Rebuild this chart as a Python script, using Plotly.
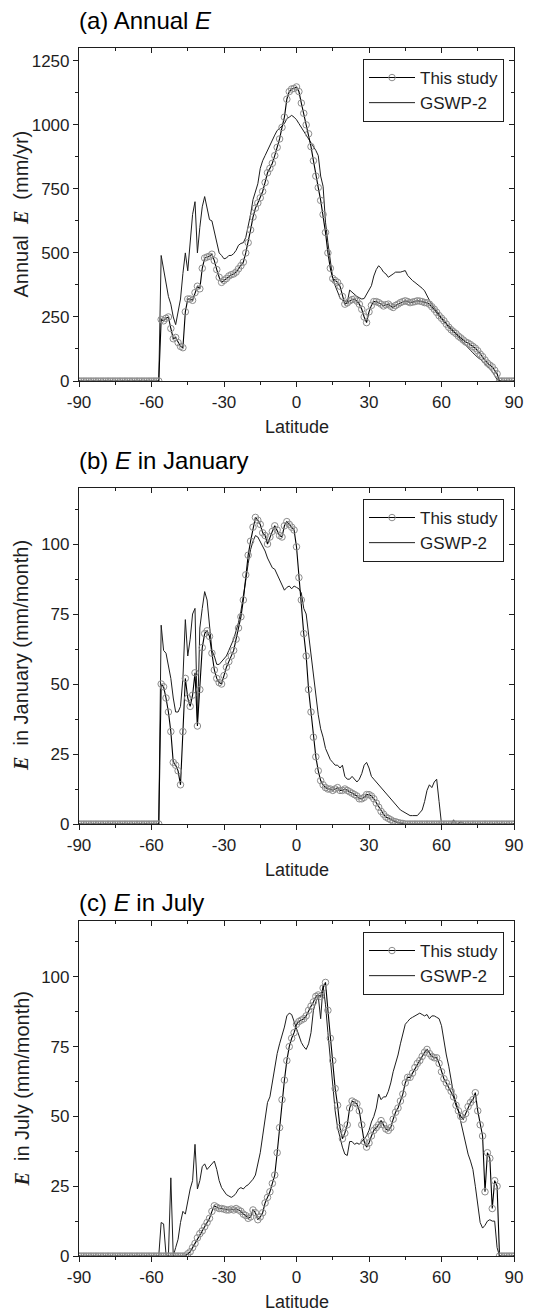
import plotly.graph_objects as go

W, H = 543, 1315

# Latitude grid (1 degree)
LATITUDE = list(range(-90, 91))
LAT_TICKS = [-90, -60, -30, 0, 30, 60, 90]
LAT_TICK_TEXT = ["-90", "-60", "-30", "0", "30", "60", "90"]
LAT_MINOR = [-75, -45, -15, 15, 45, 75]

ANNUAL_TICKS = [0, 250, 500, 750, 1000, 1250]
ANNUAL_MINOR = [125, 375, 625, 875, 1125]
MONTH_TICKS = [0, 25, 50, 75, 100]
MONTH_MINOR = [12.5, 37.5, 62.5, 87.5, 112.5]

# (a) Annual E, mm/yr
annual_this_study = [
    0, 0, 0, 0, 0, 0, 0, 0, 0, 0,
    0, 0, 0, 0, 0, 0, 0, 0, 0, 0,
    0, 0, 0, 0, 0, 0, 0, 0, 0, 0,
    0, 0, 0, 0,
    240, 235, 245, 250, 205, 165, 170, 150, 135, 130,
    270, 320, 320, 315, 345, 370, 360, 440, 480, 484,
    487, 495, 470, 435, 405, 385, 393, 400, 410, 415,
    418, 425, 438, 450, 464, 500, 540, 590, 640, 675,
    695, 715, 740, 775, 813, 830, 850, 880, 912, 945,
    990, 1030, 1100, 1130, 1140, 1142, 1148, 1130, 1085, 1045,
    1000, 965, 915, 860, 800, 755, 705, 650, 580, 500,
    440, 400, 392, 385, 370, 330, 300, 305, 313, 318,
    320, 312, 300, 280, 250, 228, 270, 295, 310, 310,
    306, 300, 293, 298, 300, 292, 287, 295, 300, 306,
    310, 313, 310, 306, 308, 310, 313, 312, 310, 306,
    305, 300, 290, 280, 268, 255, 245, 235, 222, 210,
    200, 192, 185, 175, 168, 160, 152, 148, 142, 135,
    128, 118, 105, 95, 82, 70, 62, 55, 42, 28,
    0, 0, 0, 0, 0, 0, 0,
]
annual_gswp2 = [
    0, 0, 0, 0, 0, 0, 0, 0, 0, 0,
    0, 0, 0, 0, 0, 0, 0, 0, 0, 0,
    0, 0, 0, 0, 0, 0, 0, 0, 0, 0,
    0, 0, 0, 0,
    490, 440, 390, 330, 300, 250, 220, 270, 320, 420,
    500, 430, 560, 650, 700, 500, 600, 680, 720, 680,
    630, 625, 580, 540, 500, 490, 477, 480, 490, 490,
    497, 510, 530, 537, 540, 560, 603, 650, 708, 740,
    770, 830, 860, 880, 900, 925, 945, 960, 978, 985,
    995, 1005, 1024, 1030, 1037, 1030, 1020, 1005, 990, 980,
    965, 945, 930, 915, 900, 880, 800, 760, 620, 540,
    460, 400, 372, 345, 325, 315, 310, 306, 355, 346,
    339, 330, 325, 320, 322, 339, 355, 372, 410, 435,
    450, 440, 425, 418, 405, 410, 418, 425, 425, 425,
    428, 431, 412, 400, 392, 385, 378, 372, 362, 352,
    330, 315, 300, 285, 273, 260, 247, 235, 225, 215,
    208, 195, 185, 170, 160, 150, 141, 130, 120, 110,
    100, 92, 85, 78, 68, 58, 48, 36, 22, 5,
    0, 0, 0, 0, 0, 0, 0,
]

# (b) E in January, mm/month
january_this_study = [
    0, 0, 0, 0, 0, 0, 0, 0, 0, 0,
    0, 0, 0, 0, 0, 0, 0, 0, 0, 0,
    0, 0, 0, 0, 0, 0, 0, 0, 0, 0,
    0, 0, 0, 0,
    50, 49, 45, 40, 33, 22, 21, 19, 14, 33,
    52, 45, 42, 46, 54, 35, 48, 63, 68, 69,
    67, 61, 55, 52, 50.5, 50, 53, 56, 58, 60,
    62, 66, 70, 74, 80, 89, 96, 101, 106, 109.5,
    108.5, 107, 104, 103, 100, 102.5, 104.5, 106.5, 105, 103,
    102.5, 106.5, 108, 107, 106, 105, 99, 88, 80, 68,
    60, 48, 40, 31, 24, 19, 15.5, 14, 13, 12.5,
    12.5, 12, 12.5, 13, 12, 12, 12.5, 12, 11.5, 11,
    10.5, 10, 9, 9, 9.5, 10.5, 10.5, 10, 9, 7.5,
    6, 4.5, 3.5, 2.5, 2, 1.5, 1, 0.8, 0.5, 0.3,
    0.2, 0, 0, 0, 0, 0, 0, 0, 0, 0,
    0, 0, 0, 0, 0, 0, 0, 0, 0, 0,
    0, 0, 0, 0, 0, 0, 0, 0, 0, 0,
    0, 0, 0, 0, 0, 0, 0, 0, 0, 0,
    0, 0, 0, 0, 0, 0, 0,
]
january_gswp2 = [
    0, 0, 0, 0, 0, 0, 0, 0, 0, 0,
    0, 0, 0, 0, 0, 0, 0, 0, 0, 0,
    0, 0, 0, 0, 0, 0, 0, 0, 0, 0,
    0, 0, 0, 0,
    71, 62, 61, 56, 52, 45, 40, 40, 42, 52,
    73, 60, 66, 75, 77, 36, 70, 77, 83, 80,
    70, 62, 60, 57, 57, 58, 59, 60, 62, 64,
    66, 69, 72, 76, 81, 87, 93, 98, 101, 103,
    102.5, 101, 99.5, 97.5, 95, 93, 91.5, 91, 89, 87,
    85, 83.5, 84.5, 85, 84, 85, 84.5, 84, 82.5, 77,
    75, 68, 60, 52, 45, 39, 34, 31, 27, 25,
    23, 22, 21, 21, 20, 21, 17, 16, 16, 17,
    16, 15, 16, 18, 21, 22, 20, 17, 16, 15,
    14, 13, 12, 11, 10, 9, 8, 7, 6, 5,
    4.5, 4, 3.5, 3, 3, 3, 3, 4, 5, 8,
    12, 14, 13, 15, 16, 8, 0, 0, 0, 0,
    0, 1.5, 0, 0, 1, 0, 0, 0, 0, 0,
    0, 0, 0, 0, 0, 0, 0, 0, 0, 0,
    0, 0, 0, 0, 0, 0, 0,
]

# (c) E in July, mm/month
july_this_study = [
    0, 0, 0, 0, 0, 0, 0, 0, 0, 0,
    0, 0, 0, 0, 0, 0, 0, 0, 0, 0,
    0, 0, 0, 0, 0, 0, 0, 0, 0, 0,
    0, 0, 0, 0, 0, 0, 0, 0, 0, 0,
    0, 0, 0, 0, 0,
    0.8, 1.5, 3, 4.5, 6.5, 8, 9, 10.5, 12, 13.5,
    16, 18, 17.5, 17, 17, 16.8, 16.5, 16.5, 16.8, 16.5,
    17, 16.5, 16, 15, 14.5, 13.5, 14, 16.5, 15.5, 13,
    14, 15.5, 19, 21, 23, 26, 29, 37, 46, 56,
    63, 70, 75, 78, 80, 83, 84, 84.5, 85, 86,
    88, 89.5, 91, 93, 93.5, 93, 96, 98, 88, 78,
    70, 60, 54, 46, 42, 44, 47, 53, 55.5, 55,
    54.5, 52, 47, 41, 39, 40.5, 43, 45, 46, 47,
    48.5, 47, 45.5, 45, 46, 49, 51.5, 53, 55.5, 58,
    62, 64, 64, 65.5, 67.5, 69, 70, 71.5, 73, 74,
    72.5, 71.5, 71, 71, 69, 66, 63.5, 62, 60.5, 59,
    57, 54, 52, 50, 49, 51, 53.5, 55, 56, 58.5,
    52, 47, 43, 23, 37, 35, 17, 27, 25,
    0, 0, 0, 0, 0, 0, 0,
]
july_gswp2 = [
    0, 0, 0, 0, 0, 0, 0, 0, 0, 0,
    0, 0, 0, 0, 0, 0, 0, 0, 0, 0,
    0, 0, 0, 0, 0, 0, 0, 0, 0, 0,
    0, 0, 0, 0,
    12, 11.5, 0.5, 0, 28, 0, 3, 6, 12, 16,
    15, 20, 24, 27, 40, 24, 27, 32, 33, 31,
    32, 33, 34, 31, 27, 24.5, 23, 22, 21.5, 21,
    21.5, 22.5, 24, 24.5, 24, 25, 25.5, 26.5, 27.5, 29,
    33, 37, 43, 50, 55, 57, 62, 68, 72.5, 76,
    79, 82, 86, 87, 86.5, 84, 81, 79, 76.5, 75,
    74, 76, 80, 88, 91, 93, 85, 97, 90, 80,
    70, 62, 52, 46, 42, 39, 36.5, 36, 41, 41,
    40, 40.5, 40, 41, 42, 43, 45, 48, 50, 53,
    58, 56, 57, 57, 59, 62, 66, 69, 72, 76,
    80, 83, 84, 85, 85.5, 86, 86.5, 87, 86.5, 86,
    86.5, 85, 86, 86, 85.5, 85, 82.5, 77, 72, 68,
    63, 58, 55, 52, 48, 44, 40, 36.5, 34, 31,
    25, 18, 12, 10, 11, 12.5, 13, 12.5, 12.5, 3,
    0, 0, 0, 0, 0, 0, 0,
]

FONT = "Liberation Sans, Arial, sans-serif"
SERIF_E = '<span style="font-family:Liberation Serif"><b><i>E</i></b></span>'
INK = "#1e1e1e"

# panel: series, y range, ticks, pixel frame (top, bottom), captions
panels = [
    dict(this=annual_this_study, gswp=annual_gswp2, ymax=1300,
         ticks=ANNUAL_TICKS, minor=ANNUAL_MINOR, top=48, bottom=381,
         title="(a) Annual <i>E</i>", title_y=21,
         ytitle="Annual  " + SERIF_E + "  (mm/yr)"),
    dict(this=january_this_study, gswp=january_gswp2, ymax=120,
         ticks=MONTH_TICKS, minor=MONTH_MINOR, top=488, bottom=824,
         title="(b) <i>E</i> in January", title_y=460,
         ytitle=SERIF_E + "  in January (mm/month)"),
    dict(this=july_this_study, gswp=july_gswp2, ymax=120,
         ticks=MONTH_TICKS, minor=MONTH_MINOR, top=921, bottom=1256,
         title="(c) <i>E</i> in July", title_y=902,
         ytitle=SERIF_E + "  in July (mm/month)"),
]

LEFT, RIGHT = 79, 514
x_dom = [LEFT / W, RIGHT / W]

fig = go.Figure()
annotations = []
layout = dict(
    width=W, height=H, autosize=False,
    margin=dict(l=0, r=0, t=0, b=0),
    paper_bgcolor="white", plot_bgcolor="white",
    font=dict(family=FONT, size=17, color=INK),
)

for i, p in enumerate(panels, start=1):
    sfx = "" if i == 1 else str(i)
    osfx = str(i + 3)
    xr, yr = "x" + sfx, "y" + sfx
    leg = "legend" + sfx
    y_dom = [1 - p["bottom"] / H, 1 - p["top"] / H]

    fig.add_trace(go.Scatter(
        x=LATITUDE, y=p["gswp"], mode="lines", name="GSWP-2",
        line=dict(color=INK, width=1), xaxis=xr, yaxis=yr,
        legend=leg, legendrank=2, hoverinfo="skip"))
    fig.add_trace(go.Scatter(
        x=LATITUDE, y=p["this"], mode="lines+markers", name="This study",
        line=dict(color="black", width=1.1),
        marker=dict(symbol="circle-open", size=6.5, color="#8c8c8c",
                    line=dict(width=1)),
        xaxis=xr, yaxis=yr, legend=leg, legendrank=1, hoverinfo="skip"))
    # carrier for the top/right frame axes
    fig.add_trace(go.Scatter(x=[], y=[], xaxis="x" + osfx, yaxis="y" + osfx,
                             showlegend=False, hoverinfo="skip"))

    common_x = dict(range=[-90, 90], tickmode="array", tickvals=LAT_TICKS,
                    showgrid=False, zeroline=False, showline=True,
                    linecolor=INK, linewidth=1.2, tickcolor=INK,
                    tickwidth=1, fixedrange=True, automargin=False)
    common_y = dict(range=[0, p["ymax"]], tickmode="array",
                    tickvals=p["ticks"], showgrid=False, zeroline=False,
                    showline=True, linecolor=INK, linewidth=1.2,
                    tickcolor=INK, tickwidth=1, fixedrange=True,
                    automargin=False)

    layout["xaxis" + sfx] = dict(
        common_x, domain=x_dom, anchor=yr, ticktext=LAT_TICK_TEXT,
        ticks="outside", ticklen=5, tickfont=dict(size=17),
        minor=dict(tickmode="array", tickvals=LAT_MINOR, ticks="outside",
                   ticklen=3, tickcolor=INK, showgrid=False))
    layout["yaxis" + sfx] = dict(
        common_y, domain=y_dom, anchor=xr, ticks="outside", ticklen=5,
        tickfont=dict(size=17),
        minor=dict(tickmode="array", tickvals=p["minor"], ticks="outside",
                   ticklen=3, tickcolor=INK, showgrid=False))
    layout["xaxis" + osfx] = dict(
        common_x, overlaying=xr, anchor=yr, side="top", ticks="inside",
        ticklen=5, showticklabels=False,
        minor=dict(tickmode="array", tickvals=LAT_MINOR, ticks="inside",
                   ticklen=3, tickcolor=INK, showgrid=False))
    layout["yaxis" + osfx] = dict(
        common_y, overlaying=yr, anchor=xr, side="right", ticks="inside",
        ticklen=5, showticklabels=False,
        minor=dict(tickmode="array", tickvals=p["minor"], ticks="inside",
                   ticklen=3, tickcolor=INK, showgrid=False))

    layout[leg] = dict(
        x=(RIGHT - 10) / W, xanchor="right",
        y=1 - (p["top"] + 11) / H, yanchor="top",
        bgcolor="white", bordercolor=INK, borderwidth=1,
        font=dict(size=17, color=INK), itemwidth=46,
        tracegroupgap=0)

    annotations.append(dict(
        text=p["title"], x=77 / W, y=1 - p["title_y"] / H,
        xref="paper", yref="paper", xanchor="left", yanchor="middle",
        showarrow=False, font=dict(size=24, color="black")))
    annotations.append(dict(
        text=p["ytitle"], x=21 / W, y=1 - (p["top"] + p["bottom"]) / 2 / H,
        xref="paper", yref="paper", xanchor="center", yanchor="middle",
        textangle=-90, showarrow=False, font=dict(size=20, color=INK)))
    annotations.append(dict(
        text="Latitude", x=(LEFT + RIGHT) / 2 / W,
        y=1 - (p["bottom"] + 46) / H,
        xref="paper", yref="paper", xanchor="center", yanchor="middle",
        showarrow=False, font=dict(size=18, color=INK)))

layout["annotations"] = annotations
fig.update_layout(**layout)

fig.write_html("out.html")
